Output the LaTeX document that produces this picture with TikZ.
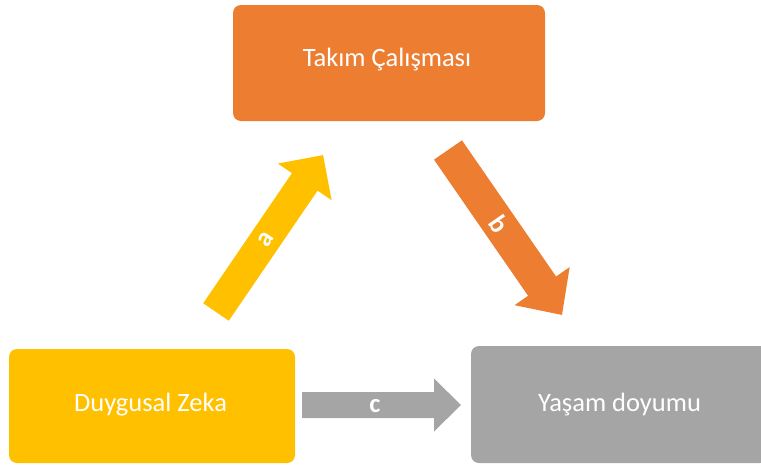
\documentclass[tikz,border=0pt]{standalone}
\usepackage{fontspec}
\setmainfont{Carlito}
\definecolor{oorange}{HTML}{ED7D31}
\definecolor{oyellow}{HTML}{FFC000}
\definecolor{ogray}{HTML}{A5A5A5}
\begin{document}
\begin{tikzpicture}[x=1pt,y=-1pt,
  box/.style={rounded corners=8pt, inner sep=0pt},
  txt/.style={text=white, inner sep=0pt, font=\fontsize{26.5}{30}\selectfont},
  lbl/.style={text=white, inner sep=0pt, font=\fontsize{26.5}{30}\selectfont\bfseries}]
\path[use as bounding box] (0,0) rectangle (761,464);
\clip (0,0) rectangle (761,464);
% boxes
\node[box, fill=oorange, minimum width=312pt, minimum height=116pt] (team) at (389,63) {};
\node[txt] (teamt) at (387,60) {Takım Çalışması};
\node[box, fill=oyellow, minimum width=286pt, minimum height=114pt] (eq) at (152,406) {};
\node[txt] (eqt) at (150.5,405) {Duygusal Zeka};
\node[box, fill=ogray, minimum width=297pt, minimum height=117pt] (life) at (619.5,404.5) {};
\node[txt] (lifet) at (619.5,405) {Yaşam doyumu};
% arrow ends
\coordinate (tailA) at (216,312);
\coordinate (tailB) at (448,150);
\coordinate (tailC) at (302,405);
% arrow a
\begin{scope}[shift={(tailA)}, rotate=55.7]
  \fill[oyellow] (0,-15.5) -- (157.5,-15.5) -- (157.5,-32.5) -- (190,0) -- (157.5,32.5) -- (157.5,15.5) -- (0,15.5) -- cycle;
  \node[lbl, rotate=55.7] (la) at (87.7,0) {a};
\end{scope}
% arrow b
\begin{scope}[shift={(tailB)}, rotate=-55.35]
  \fill[oorange] (0,-17) -- (165.5,-17) -- (165.5,-33.5) -- (200.5,0) -- (165.5,33.5) -- (165.5,17) -- (0,17) -- cycle;
  \node[lbl, rotate=-55.35] (lb) at (90,0) {b};
\end{scope}
% arrow c
\begin{scope}[shift={(tailC)}]
  \fill[ogray] (0,-13) -- (132,-13) -- (132,-26.5) -- (159,0) -- (132,26.5) -- (132,13) -- (0,13) -- cycle;
  \node[lbl] (lc) at (73,1) {c};
\end{scope}
\end{tikzpicture}
\end{document}
